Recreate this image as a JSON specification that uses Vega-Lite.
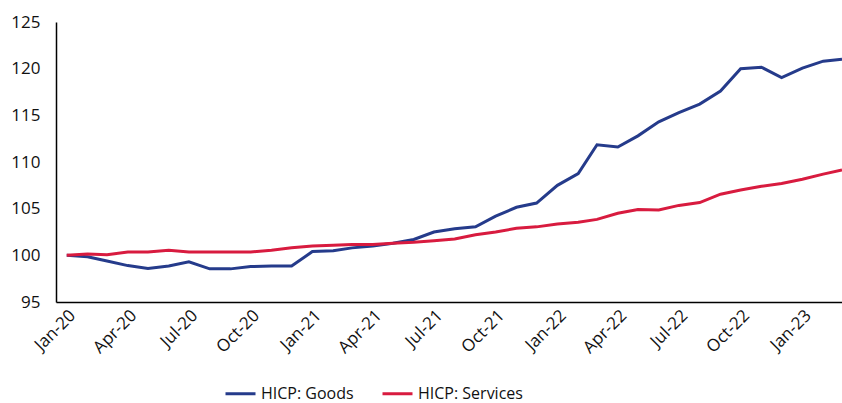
{
  "$schema": "https://vega.github.io/schema/vega-lite/v6.json",
  "width": 786,
  "height": 280,
  "autosize": {"type": "none"},
  "padding": {"left": 56, "top": 22, "right": 0, "bottom": 101},
  "background": "white",
  "config": {
    "view": {"stroke": null},
    "font": "Open Sans",
    "axis": {"grid": false, "ticks": false, "domainColor": "#000000", "domainWidth": 1.5, "labelColor": "#111111"},
    "legend": {"orient": "none", "legendX": 168, "legendY": 355, "direction": "horizontal"}
  },
  "data": {
    "values": [
      {"date": "2020-01-01", "Goods": 100.0, "Services": 100.0},
      {"date": "2020-02-01", "Goods": 99.85, "Services": 100.15},
      {"date": "2020-03-01", "Goods": 99.4, "Services": 100.07},
      {"date": "2020-04-01", "Goods": 98.9, "Services": 100.35},
      {"date": "2020-05-01", "Goods": 98.6, "Services": 100.35},
      {"date": "2020-06-01", "Goods": 98.85, "Services": 100.55},
      {"date": "2020-07-01", "Goods": 99.3, "Services": 100.35},
      {"date": "2020-08-01", "Goods": 98.55, "Services": 100.35},
      {"date": "2020-09-01", "Goods": 98.55, "Services": 100.35},
      {"date": "2020-10-01", "Goods": 98.8, "Services": 100.35},
      {"date": "2020-11-01", "Goods": 98.85, "Services": 100.55},
      {"date": "2020-12-01", "Goods": 98.85, "Services": 100.8},
      {"date": "2021-01-01", "Goods": 100.4, "Services": 101.0},
      {"date": "2021-02-01", "Goods": 100.5, "Services": 101.07},
      {"date": "2021-03-01", "Goods": 100.8, "Services": 101.15},
      {"date": "2021-04-01", "Goods": 101.0, "Services": 101.15},
      {"date": "2021-05-01", "Goods": 101.3, "Services": 101.3},
      {"date": "2021-06-01", "Goods": 101.7, "Services": 101.4},
      {"date": "2021-07-01", "Goods": 102.5, "Services": 101.55},
      {"date": "2021-08-01", "Goods": 102.85, "Services": 101.75},
      {"date": "2021-09-01", "Goods": 103.05, "Services": 102.2},
      {"date": "2021-10-01", "Goods": 104.2, "Services": 102.5},
      {"date": "2021-11-01", "Goods": 105.15, "Services": 102.9},
      {"date": "2021-12-01", "Goods": 105.6, "Services": 103.05},
      {"date": "2022-01-01", "Goods": 107.5, "Services": 103.35},
      {"date": "2022-02-01", "Goods": 108.75, "Services": 103.55},
      {"date": "2022-03-01", "Goods": 111.85, "Services": 103.85},
      {"date": "2022-04-01", "Goods": 111.6, "Services": 104.5},
      {"date": "2022-05-01", "Goods": 112.8, "Services": 104.9},
      {"date": "2022-06-01", "Goods": 114.3, "Services": 104.85},
      {"date": "2022-07-01", "Goods": 115.3, "Services": 105.35},
      {"date": "2022-08-01", "Goods": 116.2, "Services": 105.65},
      {"date": "2022-09-01", "Goods": 117.6, "Services": 106.55},
      {"date": "2022-10-01", "Goods": 120.0, "Services": 107.0},
      {"date": "2022-11-01", "Goods": 120.15, "Services": 107.4},
      {"date": "2022-12-01", "Goods": 119.05, "Services": 107.7},
      {"date": "2023-01-01", "Goods": 120.05, "Services": 108.15},
      {"date": "2023-02-01", "Goods": 120.8, "Services": 108.7},
      {"date": "2023-03-01", "Goods": 121.0, "Services": 109.15}
    ]
  },
  "transform": [
    {"fold": ["Goods", "Services"], "as": ["series", "value"]},
    {"calculate": "'HICP: ' + datum.series", "as": "label"}
  ],
  "mark": {"type": "line", "strokeWidth": 3, "clip": true},
  "encoding": {
    "x": {
      "field": "date",
      "type": "temporal",
      "scale": {"domain": ["2019-12-16", "2023-03-01"]},
      "axis": {
        "title": null,
        "format": "%b-%y",
        "labelAngle": -45,
        "labelFontSize": 17,
        "labelPadding": 5,
        "values": ["2020-01-01", "2020-04-01", "2020-07-01", "2020-10-01", "2021-01-01", "2021-04-01", "2021-07-01", "2021-10-01", "2022-01-01", "2022-04-01", "2022-07-01", "2022-10-01", "2023-01-01"]
      }
    },
    "y": {
      "field": "value",
      "type": "quantitative",
      "scale": {"domain": [95, 125], "nice": false, "zero": false},
      "axis": {"title": null, "values": [95, 100, 105, 110, 115, 120, 125], "labelFontSize": 17, "labelPadding": 16}
    },
    "color": {
      "field": "label",
      "type": "nominal",
      "scale": {"domain": ["HICP: Goods", "HICP: Services"], "range": ["#253B8B", "#D81B3F"]},
      "legend": {
        "title": null,
        "symbolType": "stroke",
        "symbolSize": 900,
        "symbolStrokeWidth": 3,
        "labelFontSize": 16,
        "labelColor": "#111111",
        "columnPadding": 22,
        "labelOffset": 4
      }
    }
  }
}
